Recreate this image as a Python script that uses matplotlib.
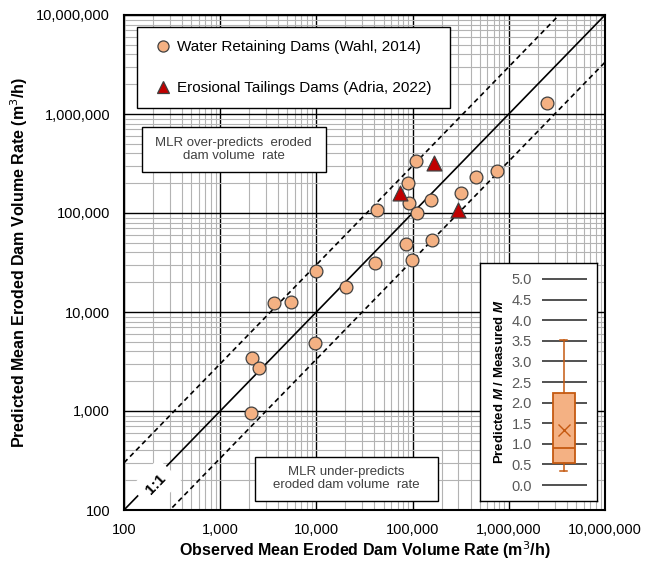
import numpy as np
import matplotlib
matplotlib.use("Agg")
import matplotlib.pyplot as plt
from matplotlib.lines import Line2D
from matplotlib.patches import Rectangle
from matplotlib.ticker import FuncFormatter, LogLocator, NullFormatter

plt.rcParams['font.family'] = ['Liberation Sans', 'DejaVu Sans']
plt.rcParams['mathtext.fontset'] = 'custom'
plt.rcParams['mathtext.bfit'] = 'Liberation Sans:italic:bold'

# Wahl (2014) water retaining dams: observed vs predicted (m3/h)
obs_wahl = [2.48e6, 1.08e5, 9.0e4, 9.25e4, 4.24e4, 1.54e5, 1.12e5, 3.19e5,
            4.6e5, 7.54e5, 1.6e5, 8.47e4, 9.8e4, 4.1e4, 9.8e3, 2.03e4,
            3.6e3, 5.4e3, 9.7e3, 2.14e3, 2.55e3, 2.07e3]
pred_wahl = [1.30e6, 3.35e5, 2.02e5, 1.25e5, 1.07e5, 1.35e5, 9.9e4, 1.6e5,
             2.33e5, 2.64e5, 5.3e4, 4.83e4, 3.35e4, 3.1e4, 2.6e4, 1.8e4,
             1.24e4, 1.27e4, 4.9e3, 3.45e3, 2.74e3, 950]

# Adria (2022) erosional tailings dams
obs_adria = [1.67e5, 7.4e4, 2.94e5]
pred_adria = [3.2e5, 1.58e5, 1.07e5]

# 1:1 reference and band factor
ref_x = [1e2, 1e7]
band = 3.0

# box plot of predicted M / measured M
ratio_stats = dict(med=0.91, q1=0.53, q3=2.24, whislo=0.35, whishi=3.52,
                   mean=1.33, fliers=[])
ratio_ticks = np.arange(0, 5.01, 0.5)

W, H = 661, 563
fig = plt.figure(figsize=(W / 100, H / 100), dpi=100)


def fx(px):
    return px / W


def fy(py):
    return 1 - py / H


ax = fig.add_axes([fx(124), fy(510), fx(605) - fx(124), fy(15) - fy(510)])
ax.set_xscale('log')
ax.set_yscale('log')
ax.set_xlim(1e2, 1e7)
ax.set_ylim(1e2, 1e7)

for a in (ax.xaxis, ax.yaxis):
    a.set_major_locator(LogLocator(base=10, numticks=10))
    a.set_minor_locator(LogLocator(base=10, subs=np.arange(2, 10), numticks=20))
    a.set_minor_formatter(NullFormatter())
    a.set_major_formatter(FuncFormatter(lambda v, p: f"{v:,.0f}"))

ax.grid(which='minor', color='#b3b3b3', lw=0.8, zorder=0)
ax.grid(which='major', color='black', lw=1.0, zorder=0.5)
ax.set_axisbelow(True)
ax.tick_params(which='both', length=0)
ax.tick_params(axis='x', pad=9, labelsize=10.5)
ax.tick_params(axis='y', pad=10, labelsize=10.5)
for s in ax.spines.values():
    s.set_linewidth(1.5)
    s.set_zorder(6)

ax.plot(ref_x, ref_x, color='black', lw=1.2, zorder=2)
ax.plot(ref_x, [v * band for v in ref_x], color='black', lw=1.2,
        ls=(0, (3, 2.2)), zorder=2)
ax.plot(ref_x, [v / band for v in ref_x], color='black', lw=1.2,
        ls=(0, (3, 2.2)), zorder=2)

ax.scatter(obs_wahl, pred_wahl, s=85, marker='o', facecolor='#f4b183',
           edgecolor='#404040', lw=0.9, zorder=4)
ax.scatter(obs_adria, pred_adria, s=115, marker='^', facecolor='#c00000',
           edgecolor='#404040', lw=0.9, zorder=4)

ax.set_xlabel('Observed Mean Eroded Dam Volume Rate (m$^3$/h)',
              fontsize=11.5, fontweight='bold')
ax.set_ylabel('Predicted Mean Eroded Dam Volume Rate (m$^3$/h)',
              fontsize=11.5, fontweight='bold')
ax.xaxis.set_label_coords(0.5, -0.060)
ax.yaxis.set_label_coords(-0.196, 0.5)

# 1:1 label
ax.text(0.066, 0.052, '1:1', transform=ax.transAxes, rotation=46,
        ha='center', va='center', fontsize=11, fontweight='bold', zorder=5,
        bbox=dict(boxstyle='square,pad=0.6', fc='white', ec='none'))

# legend
handles = [
    Line2D([], [], ls='none', marker='o', ms=8, mfc='#f4b183', mec='#404040',
           mew=0.9, label='Water Retaining Dams (Wahl, 2014)'),
    Line2D([], [], ls='none', marker='^', ms=8, mfc='#c00000', mec='#404040',
           mew=0.9, label='Erosional Tailings Dams (Adria, 2022)'),
]
leg = ax.legend(handles=handles, loc='upper left', mode='expand',
                bbox_to_anchor=(0.0277, 0.808, 0.651, 0.167),
                borderaxespad=0, borderpad=0.85, labelspacing=1.75,
                handlelength=1.7, handletextpad=0.05, fontsize=11,
                fancybox=False, framealpha=1, edgecolor='black')
leg.get_frame().set_linewidth(1.0)
leg.set_zorder(7)

# annotation boxes
ax.add_patch(Rectangle((0.0368, 0.6834), 0.3825, 0.0909, transform=ax.transAxes,
                       fc='white', ec='black', lw=1.0, zorder=5))
ax.text(0.2281, 0.7289, 'MLR over-predicts  eroded\ndam volume  rate',
        transform=ax.transAxes, ha='center', va='center', fontsize=9.5,
        color='#404040', zorder=6, linespacing=1.15)
ax.add_patch(Rectangle((0.2723, 0.0182), 0.3797, 0.0895, transform=ax.transAxes,
                       fc='white', ec='black', lw=1.0, zorder=5))
ax.text(0.4622, 0.063, 'MLR under-predicts\neroded dam volume  rate',
        transform=ax.transAxes, ha='center', va='center', fontsize=9.5,
        color='#404040', zorder=6, linespacing=1.15)

# inset frame
frame = fig.add_axes([fx(480), fy(501), fx(597) - fx(480), fy(263) - fy(501)])
frame.set_xticks([])
frame.set_yticks([])
frame.set_facecolor('white')
for s in frame.spines.values():
    s.set_linewidth(1.0)

# inset box plot
ins = fig.add_axes([fx(541.7), fy(489), 45 / W, fy(275) - fy(489)])
ins.patch.set_alpha(0)
for t in ratio_ticks:
    ins.axhline(t, color='#333333', lw=1.2, zorder=1)
ins.bxp([ratio_stats], positions=[0.98], widths=1.0, showmeans=True,
        patch_artist=True, showfliers=False,
        boxprops=dict(facecolor='#f4b183', edgecolor='#c55a11', lw=1.3),
        medianprops=dict(color='#c55a11', lw=1.3),
        whiskerprops=dict(color='#c55a11', lw=1.1),
        capprops=dict(color='#c55a11', lw=1.1),
        capwidths=0.3,
        meanprops=dict(marker='x', markeredgecolor='#c55a11', markersize=8,
                       markeredgewidth=1.0), zorder=3)
ins.set_ylim(-0.097, 5.097)
ins.set_xlim(0, 2)
ins.set_yticks(ratio_ticks)
ins.set_yticklabels([f"{t:.1f}" for t in ratio_ticks])
ins.set_xticks([])
ins.tick_params(axis='y', length=0, pad=7, labelsize=10.5, labelcolor='#595959')
for s in ins.spines.values():
    s.set_visible(False)
ins.set_ylabel('Predicted $\\mathbfit{M}$ / Measured $\\mathbfit{M}$',
               fontsize=9.5, fontweight='bold')
ins.yaxis.set_label_coords(-0.8, 0.5)

fig.savefig('out.png', dpi=100)
